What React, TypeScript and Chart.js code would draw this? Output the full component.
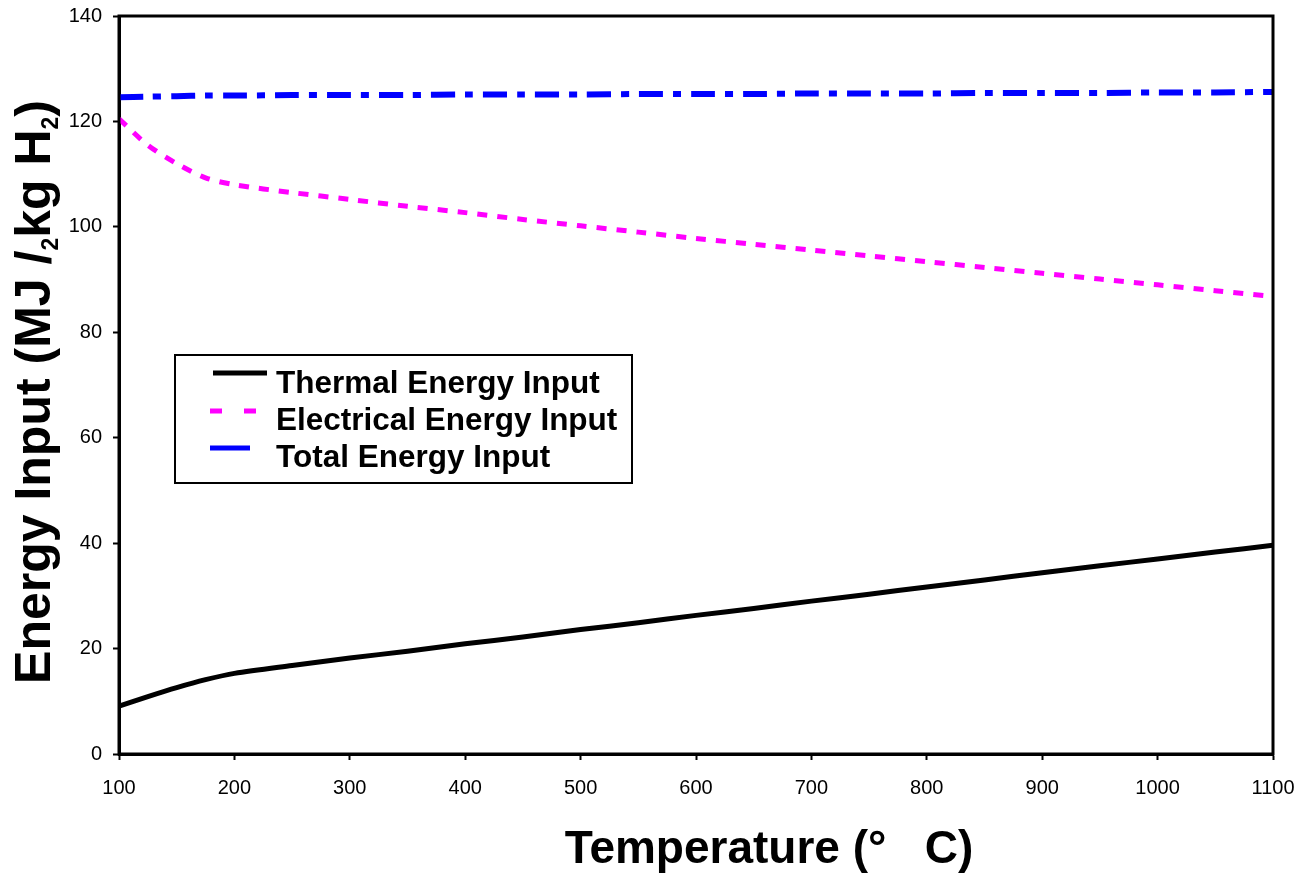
import React, { useEffect, useRef } from "react";
import { Chart, registerables } from "chart.js";

Chart.register(...registerables);

const temperatures = [100, 125, 150, 175, 200, 250, 300, 350, 400, 450, 500, 550, 600, 650, 700, 750, 800, 850, 900, 950, 1000, 1050, 1100];
const thermalInput = [9.1, 10.9, 12.6, 14.1, 15.3, 16.8, 18.2, 19.5, 20.9, 22.2, 23.6, 24.9, 26.3, 27.6, 29.0, 30.3, 31.7, 33.0, 34.4, 35.7, 37.0, 38.3, 39.6];
const electricalInput = [120.5, 115.5, 112.0, 109.3, 108.0, 106.5, 105.2, 103.9, 102.7, 101.4, 100.2, 99.0, 97.8, 96.7, 95.6, 94.5, 93.4, 92.3, 91.2, 90.1, 89.0, 87.9, 86.8];
const totalInput = [124.6, 124.7, 124.8, 124.9, 124.9, 125.0, 125.0, 125.0, 125.1, 125.1, 125.1, 125.2, 125.2, 125.2, 125.3, 125.3, 125.3, 125.4, 125.4, 125.4, 125.5, 125.5, 125.6];
const seriesLabels = ["Thermal Energy Input", "Electrical Energy Input", "Total Energy Input"];
const xAxisTitle = "Temperature (°   C)";
const yAxisTitleParts = [
  { text: "Energy Input (MJ /", sub: false },
  { text: "2", sub: true },
  { text: "kg H", sub: false },
  { text: "2", sub: true },
  { text: ")", sub: false },
];

const FONT = "'Liberation Sans', Arial, Helvetica, sans-serif";

const decorPlugin = {
  id: "decor",
  afterDraw(chart: any) {
    const ctx: CanvasRenderingContext2D = chart.ctx;
    const a = chart.chartArea;
    ctx.save();
    // frame
    ctx.strokeStyle = "#000";
    ctx.lineWidth = 3;
    ctx.setLineDash([]);
    ctx.strokeRect(a.left, a.top, a.right - a.left, a.bottom - a.top);

    // legend box
    ctx.lineWidth = 2;
    ctx.strokeRect(175, 355, 457, 128);
    ctx.font = `bold 31.5px ${FONT}`;
    ctx.fillStyle = "#000";
    ctx.textAlign = "left";
    ctx.textBaseline = "middle";
    const rows = [384, 421, 458];
    // thermal sample
    ctx.lineWidth = 5;
    ctx.strokeStyle = "#000";
    ctx.beginPath();
    ctx.moveTo(213, 373);
    ctx.lineTo(267, 373);
    ctx.stroke();
    // electrical sample
    ctx.strokeStyle = "#FF00FF";
    ctx.setLineDash([12, 22]);
    ctx.beginPath();
    ctx.moveTo(210, 411);
    ctx.lineTo(256, 411);
    ctx.stroke();
    ctx.setLineDash([]);
    // total sample
    ctx.strokeStyle = "#0000FF";
    ctx.beginPath();
    ctx.moveTo(210, 448);
    ctx.lineTo(250, 448);
    ctx.stroke();
    seriesLabels.forEach((l, i) => ctx.fillText(l, 276, rows[i]));

    // x title
    ctx.font = `bold 46px ${FONT}`;
    ctx.textAlign = "center";
    ctx.textBaseline = "alphabetic";
    ctx.fillText(xAxisTitle, 769, 863);

    // y title with subscripts
    ctx.save();
    ctx.translate(50, 392);
    ctx.rotate(-Math.PI / 2);
    const mainFont = `bold 50px ${FONT}`;
    const subFont = `bold 23px ${FONT}`;
    let totalW = 0;
    yAxisTitleParts.forEach((p) => {
      ctx.font = p.sub ? subFont : mainFont;
      totalW += ctx.measureText(p.text).width;
    });
    let x = -totalW / 2;
    ctx.textAlign = "left";
    yAxisTitleParts.forEach((p) => {
      ctx.font = p.sub ? subFont : mainFont;
      ctx.fillText(p.text, x, p.sub ? 8 : 0);
      x += ctx.measureText(p.text).width;
    });
    ctx.restore();

    ctx.restore();
  },
};

const zeroPad = (s: any) => {
  s.paddingTop = 0;
  s.paddingBottom = 0;
  s.paddingLeft = 0;
  s.paddingRight = 0;
};

export default function App() {
  const ref = useRef<HTMLCanvasElement | null>(null);
  useEffect(() => {
    if (!ref.current) return;
    const mk = (vals: number[]) => temperatures.map((t, i) => ({ x: t, y: vals[i] }));
    const chart = new Chart(ref.current, {
      type: "line",
      data: {
        datasets: [
          { label: seriesLabels[0], data: mk(thermalInput), borderColor: "#000000", borderWidth: 5, pointRadius: 0, tension: 0.3, fill: false },
          { label: seriesLabels[1], data: mk(electricalInput), borderColor: "#FF00FF", borderWidth: 5, borderDash: [10, 10], pointRadius: 0, tension: 0.3, fill: false },
          { label: seriesLabels[2], data: mk(totalInput), borderColor: "#0000FF", borderWidth: 6, borderDash: [24, 10, 8, 10], pointRadius: 0, tension: 0.3, fill: false },
        ],
      },
      options: {
        responsive: false,
        animation: false,
        devicePixelRatio: 1,
        layout: { padding: { top: 16, right: 29, left: 0, bottom: 0 } },
        plugins: { legend: { display: false }, tooltip: { enabled: false } },
        scales: {
          x: {
            type: "linear",
            min: 100,
            max: 1100,
            afterFit: (s: any) => { s.height = 121; zeroPad(s); },
            ticks: { stepSize: 100, color: "#000", font: { family: FONT, size: 20 }, padding: 16, maxRotation: 0, callback: (v: any) => String(v) },
            grid: { display: true, drawOnChartArea: false, drawTicks: true, tickLength: 6, tickColor: "#000", tickWidth: 2 },
            border: { display: true, color: "#000", width: 3 },
          },
          y: {
            type: "linear",
            min: 0,
            max: 140,
            afterFit: (s: any) => { s.width = 119; zeroPad(s); },
            ticks: { stepSize: 20, color: "#000", font: { family: FONT, size: 20 }, padding: 11, callback: (v: any) => String(v) },
            grid: { display: true, drawOnChartArea: false, drawTicks: true, tickLength: 6, tickColor: "#000", tickWidth: 2 },
            border: { display: true, color: "#000", width: 3 },
          },
        },
      },
      plugins: [decorPlugin],
    });
    return () => chart.destroy();
  }, []);
  return (
    <div style={{ position: "absolute", left: 0, top: 0, width: 1302, height: 875, background: "#fff" }}>
      <canvas ref={ref} width={1302} height={875} style={{ display: "block" }} />
    </div>
  );
}
